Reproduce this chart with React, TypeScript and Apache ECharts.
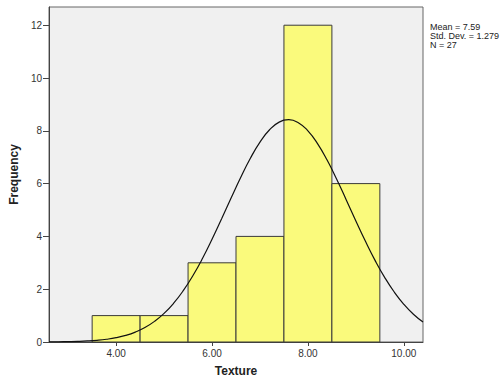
import React, { useEffect, useRef } from "react";
import * as echarts from "echarts";

const binStarts = [3.5, 4.5, 5.5, 6.5, 7.5, 8.5];
const binWidth = 1;
const counts = [1, 1, 3, 4, 12, 6];
const xTicks = [4, 6, 8, 10];
const yTicks = [0, 2, 4, 6, 8, 10, 12];
const curveX = [2.6, 2.8, 3.0, 3.2, 3.4, 3.6, 3.8, 4.0, 4.2, 4.4, 4.6, 4.8, 5.0, 5.2, 5.4, 5.6, 5.8, 6.0, 6.2, 6.4, 6.6, 6.8, 7.0, 7.2, 7.4, 7.6, 7.8, 8.0, 8.2, 8.4, 8.6, 8.8, 9.0, 9.2, 9.4, 9.6, 9.8, 10.0, 10.2, 10.4];
const curveY = [0.004, 0.008, 0.014, 0.023, 0.039, 0.065, 0.105, 0.164, 0.251, 0.376, 0.547, 0.781, 1.084, 1.47, 1.945, 2.511, 3.161, 3.889, 4.666, 5.463, 6.241, 6.959, 7.571, 8.04, 8.329, 8.422, 8.309, 8.0, 7.517, 6.892, 6.166, 5.383, 4.587, 3.814, 3.093, 2.45, 1.893, 1.427, 1.05, 0.754];
const statLines = ["Mean = 7.59", "Std. Dev. = 1.279", "N = 27"];

export default function App() {
  const ref = useRef<HTMLDivElement>(null);
  useEffect(() => {
    document.body.style.margin = "0";
    const chart = echarts.init(ref.current!, null, { renderer: "svg" });
    const font = "Arial, 'Liberation Sans', sans-serif";
    chart.setOption({
      animation: false,
      grid: {
        left: 49,
        top: 7,
        right: 81,
        bottom: 36,
        outerBoundsMode: "none",
        containLabel: false,
        show: true,
        backgroundColor: "#f0f0f0",
        borderColor: "#666",
        borderWidth: 1,
      },
      xAxis: {
        type: "value",
        min: 2.6,
        max: 10.4,
        name: "Texture",
        nameLocation: "middle",
        nameGap: 23,
        nameTextStyle: { fontFamily: font, fontWeight: "bold", fontSize: 12, color: "#222" },
        axisLine: { show: true, lineStyle: { color: "#444" } },
        axisTick: { show: true, length: 4, customValues: xTicks, lineStyle: { color: "#444" } },
        axisLabel: {
          customValues: xTicks,
          formatter: (v: number) => v.toFixed(2),
          fontFamily: font,
          fontSize: 10,
          color: "#333",
          margin: 6,
        },
        splitLine: { show: false },
      },
      yAxis: {
        type: "value",
        min: 0,
        max: 12.69,
        name: "Frequency",
        nameLocation: "middle",
        nameGap: 28,
        nameRotate: 90,
        nameTextStyle: { fontFamily: font, fontWeight: "bold", fontSize: 12, color: "#222" },
        axisLine: { show: true, lineStyle: { color: "#444" } },
        axisTick: { show: true, length: 6, customValues: yTicks, lineStyle: { color: "#444" } },
        axisLabel: {
          customValues: yTicks,
          fontFamily: font,
          fontSize: 10,
          color: "#333",
          margin: 7,
        },
        splitLine: { show: false },
      },
      series: [
        {
          type: "custom",
          data: binStarts.map((s, i) => [s, s + binWidth, counts[i]]),
          renderItem: (params: any, api: any) => {
            const p0 = api.coord([api.value(0), 0]);
            const p1 = api.coord([api.value(1), api.value(2)]);
            return {
              type: "rect",
              shape: { x: p0[0], y: p1[1], width: p1[0] - p0[0], height: p0[1] - p1[1] },
              style: { fill: "#fafa7c", stroke: "#3a3a3a", lineWidth: 1 },
            };
          },
          z: 2,
        },
        {
          type: "line",
          data: curveX.map((x, i) => [x, curveY[i]]),
          smooth: true,
          showSymbol: false,
          symbol: "none",
          lineStyle: { color: "#111", width: 1.2 },
          clip: true,
          z: 3,
        },
      ],
      graphic: [
        {
          type: "text",
          left: 430,
          top: 22,
          style: {
            text: statLines.join("\n"),
            font: "9px Arial, 'Liberation Sans', sans-serif",
            lineHeight: 9,
            fill: "#222",
          },
        },
      ],
    });
    return () => chart.dispose();
  }, []);
  return <div ref={ref} style={{ width: 504, height: 378 }} />;
}
